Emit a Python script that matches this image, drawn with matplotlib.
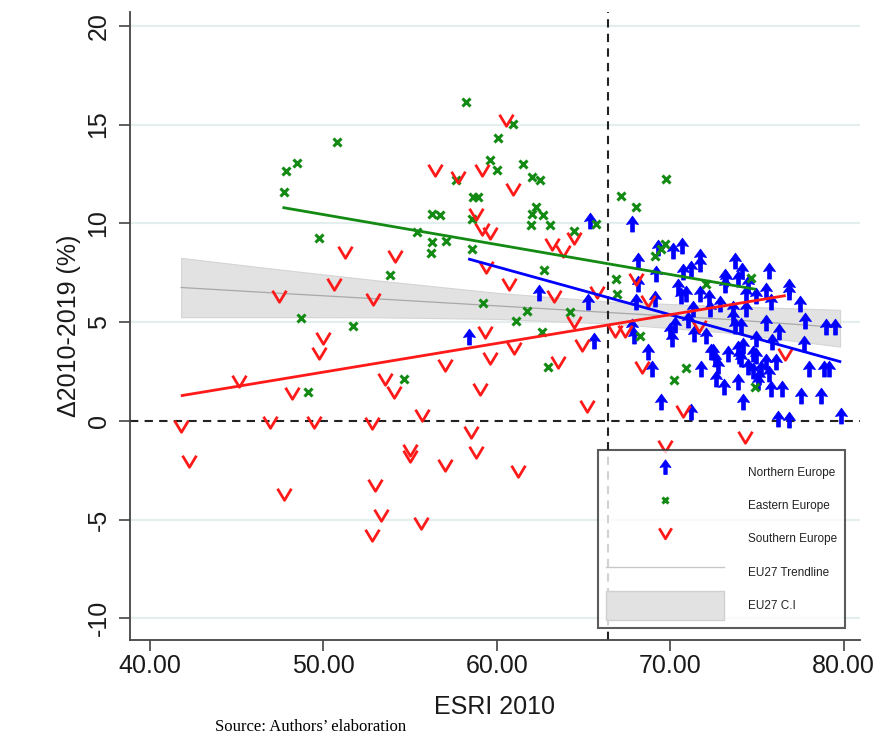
import numpy as np
import matplotlib
matplotlib.use("Agg")
import matplotlib.pyplot as plt
from matplotlib.path import Path
from matplotlib.lines import Line2D
from matplotlib.patches import Patch

plt.rcParams['font.family'] = ['Liberation Sans', 'DejaVu Sans']

# Northern Europe (ESRI 2010, change 2010-2019 %)
north_x = [65.38, 67.83, 69.31, 70.71, 70.17, 68.12, 71.71, 71.71, 71.22, 70.75,
           69.21, 68.16, 70.46, 70.94, 70.65, 71.71, 72.24, 73.14, 68.06, 69.12,
           72.28, 71.32, 67.78, 67.93, 73.75, 74.16, 75.73, 73.20, 73.91, 74.48,
           73.14, 75.53, 76.88, 76.88, 74.39, 74.97, 75.82, 77.51, 73.62, 74.39,
           73.62, 75.53, 77.80, 78.99, 79.52, 73.72, 74.10, 65.29, 65.63, 69.98,
           70.08, 71.38, 72.85, 68.74, 68.93, 69.50, 71.22, 76.21, 76.88, 79.84,
           71.80, 72.37, 72.57, 72.76, 72.66, 73.10, 73.33, 73.97, 74.20, 74.96,
           75.88, 77.74, 74.96, 75.53, 76.11, 74.48, 74.77, 75.25, 75.73, 75.15,
           77.99, 78.89, 79.14, 73.91, 75.06, 75.82, 76.45, 77.55, 78.70, 74.23,
           62.41, 58.39, 72.47, 73.91, 74.10, 74.77, 70.30, 71.05, 72.05, 76.30]
north_y = [10.12, 9.95, 8.77, 8.86, 8.60, 8.10, 8.27, 7.93, 7.68, 7.51,
           7.42, 6.92, 6.75, 6.41, 6.33, 6.41, 6.20, 7.26, 5.99, 6.16,
           5.66, 5.66, 4.75, 4.31, 8.10, 7.59, 7.59, 7.17, 7.17, 6.92,
           6.87, 6.58, 6.75, 6.50, 6.41, 6.33, 6.00, 5.91, 5.66, 5.66,
           5.24, 4.95, 5.07, 4.73, 4.73, 4.81, 4.81, 6.00, 4.06, 4.56,
           4.14, 4.39, 5.91, 3.47, 2.63, 0.94, 0.44, 0.10, 0.02, 0.22,
           2.63, 3.47, 3.13, 2.79, 2.12, 1.70, 3.38, 3.30, 3.80, 4.14,
           3.97, 3.89, 3.30, 2.96, 2.96, 2.71, 2.54, 2.63, 2.37, 2.21,
           2.63, 2.63, 2.63, 1.95, 1.95, 1.62, 1.62, 1.28, 1.28, 0.94,
           6.46, 4.23, 3.47, 3.64, 3.13, 3.38, 4.85, 5.10, 4.30, 4.50]

# Eastern Europe
east_x = [58.20, 60.94, 60.06, 59.64, 60.00, 61.49, 62.05, 62.51, 57.63, 58.64,
          58.93, 56.28, 56.72, 58.56, 62.26, 62.05, 62.66, 61.99, 63.10, 65.70,
          67.14, 55.40, 56.28, 57.05, 56.19, 58.56, 64.47, 62.74, 53.83, 48.70,
          51.70, 49.10, 50.77, 48.47, 47.82, 47.72, 49.77, 59.21, 61.76, 61.09,
          64.25, 62.59, 62.95, 54.66, 68.25, 70.94, 70.21, 74.92, 68.02, 69.69,
          69.50, 69.12, 66.88, 66.92, 72.09, 69.79, 74.67]
east_y = [16.13, 15.05, 14.31, 13.23, 12.68, 13.00, 12.36, 12.19, 12.19, 11.33,
          11.33, 10.49, 10.40, 10.20, 10.84, 10.45, 10.40, 9.91, 9.91, 9.99,
          11.38, 9.58, 9.03, 9.11, 8.52, 8.72, 9.60, 7.63, 7.39, 5.19,
          4.81, 1.48, 14.14, 13.05, 12.64, 11.58, 9.26, 5.96, 5.54, 5.03,
          5.49, 4.51, 2.71, 2.12, 4.31, 2.68, 2.09, 1.70, 10.84, 8.94,
          8.69, 8.32, 7.17, 6.41, 6.95, 12.22, 7.22]

# Southern Europe
south_x = [60.56, 56.42, 57.78, 59.16, 60.94, 58.83, 59.16, 59.60, 63.18, 63.81,
           64.47, 54.14, 59.39, 51.26, 60.69, 63.32, 59.35, 60.98, 64.47, 64.89,
           57.01, 59.60, 63.52, 53.56, 54.08, 59.02, 65.23, 55.71, 58.51, 55.00,
           55.00, 58.81, 57.01, 61.22, 53.00, 53.30, 55.65, 52.83, 50.63, 47.47,
           52.89, 50.00, 49.73, 45.13, 48.20, 41.78, 46.90, 49.44, 52.80, 42.26,
           47.72, 65.77, 68.06, 68.74, 66.82, 67.39, 68.35, 71.65, 76.64, 70.75,
           74.29, 69.71]
south_y = [15.25, 12.68, 12.36, 12.68, 11.72, 10.49, 9.73, 9.49, 8.94, 8.60,
           9.28, 8.32, 7.81, 8.57, 6.95, 6.33, 4.48, 3.67, 4.98, 3.85,
           2.84, 3.17, 2.96, 2.12, 1.48, 1.62, 0.74, 0.27, -0.57, -1.50,
           -1.80, -1.58, -2.22, -2.54, -3.27, -4.75, -5.20, -5.79, 6.92, 6.33,
           6.16, 4.19, 3.42, 1.99, 1.40, -0.24, -0.07, -0.07, -0.10, -2.04,
           -3.69, 6.50, 7.17, 6.08, 4.56, 4.56, 2.71, 4.81, 3.38, 0.49,
           -0.82, -1.26]

# group fit lines (end points)
north_fit_x = [58.43, 79.79]
north_fit_y = [8.18, 3.00]
east_fit_x = [47.72, 74.87]
east_fit_y = [10.79, 6.67]
south_fit_x = [41.86, 76.59]
south_fit_y = [1.28, 6.33]

# EU27 trendline and confidence band
eu_x = [41.8, 47.0, 53.2, 60.0, 66.5, 73.0, 79.8]
eu_fit = [6.75, 6.48, 6.17, 5.82, 5.48, 5.15, 4.72]
eu_lo = [5.25, 5.25, 5.24, 5.16, 4.93, 4.49, 3.76]
eu_hi = [8.25, 7.71, 7.10, 6.48, 6.03, 5.81, 5.62]

esri_cut = 66.4

# marker shapes
arrow = Path([(0, 1.0), (0.72, 0.0), (0.22, 0.1), (0.22, -0.9), (-0.22, -0.9),
              (-0.22, 0.1), (-0.72, 0.0), (0, 1.0)],
             [Path.MOVETO] + [Path.LINETO] * 6 + [Path.CLOSEPOLY])
vee = Path([(-0.6, 0.5), (0, -0.5), (0.6, 0.5)],
           [Path.MOVETO, Path.LINETO, Path.LINETO])

fig = plt.figure(figsize=(8.91, 7.42), dpi=100)
ax = fig.add_axes([0.1459, 0.1375, 0.8193, 0.8463])

for yv in [-10, -5, 5, 10, 15, 20]:
    ax.axhline(yv, color='#e4eeee', lw=1.6, zorder=0)

ax.fill_between(eu_x, eu_lo, eu_hi, color='#e2e2e2', edgecolor='#d4d4d4', lw=0.8, zorder=1)
ax.plot(eu_x, eu_fit, color='#a8a8a8', lw=0.9, zorder=2)

ax.axhline(0, color='#222222', lw=1.5, ls=(0, (4, 3)), zorder=2)
ax.axvline(esri_cut, color='#222222', lw=1.5, ls=(0, (4, 3)), zorder=2)

ax.plot(north_x, north_y, ls='none', marker=arrow, ms=12, color='#0000ff', mec='#0000ff', mew=0.6, zorder=3)
ax.plot(east_x, east_y, ls='none', marker='x', ms=5.5, mew=2.2, color='#138a13', zorder=3)
ax.plot(south_x, south_y, ls='none', marker=vee, ms=10, mfc='none', mec='#ff1a1a', mew=2.0, zorder=3)

ax.plot(north_fit_x, north_fit_y, color='#0000ff', lw=2, zorder=4)
ax.plot(east_fit_x, east_fit_y, color='#138a13', lw=2, zorder=4)
ax.plot(south_fit_x, south_fit_y, color='#ff1a1a', lw=2, zorder=4)

ax.set_xlim(38.85, 80.95)
ax.set_ylim(-11.1, 20.7)
ax.set_xticks([40, 50, 60, 70, 80])
ax.set_xticklabels(['40.00', '50.00', '60.00', '70.00', '80.00'])
ax.set_yticks([-10, -5, 0, 5, 10, 15, 20])
ax.set_yticklabels(['-10', '-5', '0', '5', '10', '15', '20'], rotation=90, va='center')

for s in ['top', 'right']:
    ax.spines[s].set_visible(False)
for s in ['left', 'bottom']:
    ax.spines[s].set_color('#444444')
    ax.spines[s].set_linewidth(1.3)
ax.tick_params(axis='both', labelsize=18, length=8, width=1.2, color='#444444', labelcolor='#1a1a1a')
ax.tick_params(axis='x', pad=2)
ax.tick_params(axis='y', pad=6)

ax.set_xlabel('ESRI 2010', fontsize=18, color='#1a1a1a', labelpad=12)
ax.set_ylabel('Δ2010-2019 (%)', fontsize=18, color='#1a1a1a', labelpad=4)

handles = [
    Line2D([], [], ls='none', marker=arrow, ms=11, color='#0000ff', mew=0.6),
    Line2D([], [], ls='none', marker='x', ms=5, mew=2.2, color='#138a13'),
    Line2D([], [], ls='none', marker=vee, ms=9, mfc='none', mec='#ff1a1a', mew=2.0),
    Line2D([], [], color='#c8c8c8', lw=1.0),
    Patch(facecolor='#e2e2e2', edgecolor='#d0d0d0'),
]
labels = ['Northern Europe', 'Eastern Europe', 'Southern Europe', 'EU27 Trendline', 'EU27 C.I']
leg = ax.legend(handles, labels, loc='lower left', bbox_to_anchor=(0.641, 0.019),
                fontsize=8.5, frameon=True, fancybox=False, handlelength=10.0,
                handleheight=3.4, handletextpad=2.0, labelspacing=0.35,
                borderpad=0.7, borderaxespad=0)
leg.get_frame().set_edgecolor('#333333')
leg.get_frame().set_linewidth(1.5)
for t in leg.get_texts():
    t.set_color('#222222')

fig.text(0.241, 0.0145, 'Source: Authors\u2019 elaboration', family='Liberation Serif', fontsize=12)

fig.savefig('out.png', dpi=100)
